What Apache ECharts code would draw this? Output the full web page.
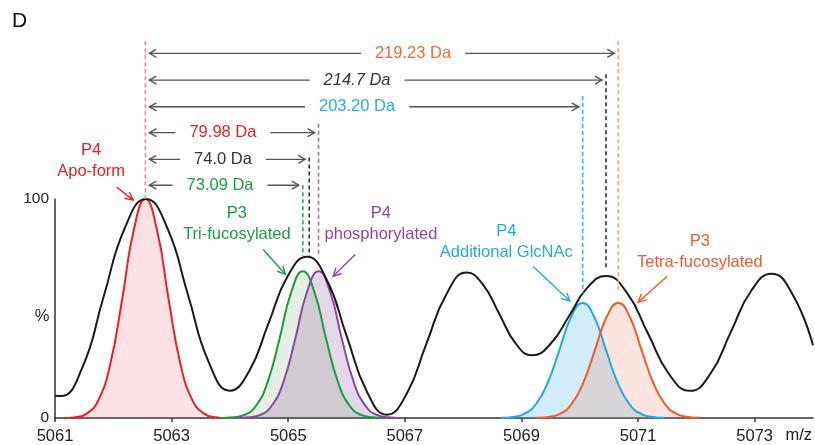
<!DOCTYPE html>
<html lang="en">
<head>
<meta charset="UTF-8">
<title>m/z</title>
<script src="https://cdn.jsdelivr.net/npm/echarts@6/dist/echarts.min.js"></script>
<style>
    *{margin:0;padding:0;}
    #main{width:815px;height:445px;background:#fff;}
</style>
</head>
<body>
<div id="main"></div>
<script>
// black envelope spectrum (m/z, %)
var envMz  = [5061.0, 5061.1, 5061.47, 5061.83, 5062.2, 5062.56, 5062.92, 5063.28, 5063.64, 5064.0,
              5064.33, 5064.66, 5064.99, 5065.32, 5065.66, 5066.0, 5066.35, 5066.69, 5067.03, 5067.37,
              5067.72, 5068.06, 5068.34, 5068.62, 5068.9, 5069.18, 5069.5, 5069.82, 5070.13, 5070.45,
              5070.81, 5071.17, 5071.53, 5071.89, 5072.24, 5072.59, 5072.94, 5073.29, 5073.65, 5074.0];
var envInt = [10.2, 10, 23.1, 55, 86.9, 100, 87.2, 56.3, 25.3, 12.5,
              21.4, 43.1, 64.7, 73.6, 63.1, 37.6, 12, 1.5, 11, 34,
              56.9, 66.4, 60.9, 47.5, 34.1, 28.6, 33.9, 46.7, 59.5, 64.8,
              57.1, 38.6, 20.1, 12.4, 20.2, 39.2, 58.1, 65.9, 56.4, 33.2];

// P4 apo-form
var redMz  = [5061.15, 5061.35, 5061.55, 5061.75, 5061.95, 5062.15, 5062.35, 5062.55, 5062.75, 5062.95, 5063.15, 5063.35, 5063.55, 5063.75, 5063.95];
var redInt = [0, 0.4, 2.1, 8.5, 24.9, 53.9, 85.7, 100, 85.7, 53.9, 24.9, 8.5, 2.1, 0.4, 0];
// P3 tri-fucosylated
var greenMz  = [5063.85, 5064.05, 5064.25, 5064.45, 5064.65, 5064.85, 5065.05, 5065.25, 5065.45, 5065.65, 5065.85, 5066.05, 5066.25, 5066.45, 5066.65];
var greenInt = [0, 0.3, 1.4, 5.7, 16.7, 36.1, 57.4, 67, 57.4, 36.1, 16.7, 5.7, 1.4, 0.3, 0];
// P4 phosphorylated
var purpleMz  = [5064.12, 5064.32, 5064.52, 5064.72, 5064.92, 5065.12, 5065.32, 5065.52, 5065.72, 5065.92, 5066.12, 5066.32, 5066.52, 5066.72, 5066.92];
var purpleInt = [0, 0.3, 1.4, 5.7, 16.7, 36.1, 57.4, 67, 57.4, 36.1, 16.7, 5.7, 1.4, 0.3, 0];
// P4 additional GlcNAc
var blueMz  = [5068.65, 5068.85, 5069.05, 5069.25, 5069.45, 5069.65, 5069.85, 5070.05, 5070.25, 5070.45, 5070.65, 5070.85, 5071.05, 5071.25, 5071.45];
var blueInt = [0.1, 0.5, 1.9, 6.4, 16.1, 31.0, 46.0, 52.5, 46.0, 31.0, 16.1, 6.4, 1.9, 0.5, 0.1];
// P3 tetra-fucosylated
var orangeMz  = [5069.26, 5069.46, 5069.66, 5069.86, 5070.06, 5070.26, 5070.46, 5070.66, 5070.86, 5071.06, 5071.26, 5071.46, 5071.66, 5071.86, 5072.06];
var orangeInt = [0.1, 0.5, 1.9, 6.4, 16.1, 31.0, 46.0, 52.5, 46.0, 31.0, 16.1, 6.4, 1.9, 0.5, 0.1];

var tickMz = [5061, 5063, 5065, 5067, 5069, 5071, 5073];
var yTicks = [0, 100];

// mass differences measured from the apo-form peak
var spanStart  = 5062.55;
var spanLabels = ['219.23 Da', '214.7 Da', '203.20 Da', '79.98 Da', '74.0 Da', '73.09 Da'];
var spanEnd    = [5070.66, 5070.45, 5070.05, 5065.52, 5065.36, 5065.25];

var FONT = '"Liberation Sans", Arial, sans-serif';

function pairs(xs, ys) {
    var out = [];
    for (var i = 0; i < xs.length; i++) out.push([xs[i], ys[i]]);
    return out;
}

function peak(name, xs, ys, color, fill) {
    return {
        name: name, type: 'line', data: pairs(xs, ys),
        smooth: 0.5, showSymbol: false, symbol: 'none', z: 2,
        lineStyle: {color: color, width: 2},
        areaStyle: {color: fill, opacity: 1}
    };
}

var chart = echarts.init(document.getElementById('main'));

var option = {
    animation: false,
    backgroundColor: '#fff',
    grid: {left: 55, right: 2, top: 199, bottom: 25},
    xAxis: {
        type: 'value', min: 5061, max: 5074, interval: 1,
        splitLine: {show: false},
        axisLine: {lineStyle: {color: '#333', width: 1.5}},
        axisTick: {show: true, length: 4, customValues: tickMz, lineStyle: {color: '#333', width: 1.5}},
        axisLabel: {
            customValues: tickMz, margin: 10, fontSize: 16.5, color: '#222', fontFamily: FONT,
            formatter: function (v) { return String(v); }
        }
    },
    yAxis: {
        type: 'value', min: 0, max: 100,
        splitLine: {show: false},
        axisLine: {show: true, lineStyle: {color: '#333', width: 1.5}},
        axisTick: {show: false},
        axisLabel: {customValues: yTicks, margin: 6, fontSize: 15.5, color: '#222', fontFamily: FONT}
    },
    series: [
        peak('P4 Apo-form', redMz, redInt, '#e8202a', 'rgba(236,60,80,0.15)'),
        peak('P3 Tri-fucosylated', greenMz, greenInt, '#1b9b45', 'rgba(70,140,60,0.14)'),
        peak('P4 phosphorylated', purpleMz, purpleInt, '#8a4a9c', 'rgba(120,60,140,0.2)'),
        peak('P4 Additional GlcNAc', blueMz, blueInt, '#27a7e1', 'rgba(80,180,230,0.25)'),
        peak('P3 Tetra-fucosylated', orangeMz, orangeInt, '#ef5b2b', 'rgba(240,110,70,0.18)'),
        {
            name: 'spectrum', type: 'line', data: pairs(envMz, envInt),
            smooth: 0.5, showSymbol: false, symbol: 'none', z: 3,
            lineStyle: {color: '#1a1a1a', width: 2}
        }
    ]
};
chart.setOption(option);

function px(mz, pct) {
    return chart.convertToPixel({gridIndex: 0}, [mz, pct]);
}

var g = [];

// dashed guides: m/z, top %, bottom %, colour
var guides = [
    [spanStart, 172, 100, '#f4868c'],
    [5070.66, 172, 57, '#f6a07a'],
    [5070.45, 157, 68, '#333'],
    [5070.05, 147, 57, '#3bb4e6'],
    [5065.52, 134.4, 74, '#a070b0'],
    [5065.36, 119, 74, '#333'],
    [5065.25, 106.3, 74, '#2aa350']
];
guides.forEach(function (d) {
    var a = px(d[0], d[1]), b = px(d[0], d[2]);
    g.push({type: 'line', z: 10, shape: {x1: a[0], y1: a[1], x2: b[0], y2: b[1]},
        style: {stroke: d[3], lineWidth: 1.6, lineDash: [4, 3]}});
});

// dimension rows
var rowLevel = [166.5, 154.3, 142.1, 130.3, 118.1, 106.3];
var rowText  = [5067.14, 5066.18, 5066.18, 5063.88, 5063.88, 5063.83];
var rowColor = ['#f26b3a', '#333', '#29abe2', '#e8202a', '#333', '#1b9b45'];
for (var i = 0; i < spanLabels.length; i++) {
    var p1 = px(spanStart, rowLevel[i]), p2 = px(spanEnd[i], rowLevel[i]);
    var y = p1[1], x1 = p1[0] + 4, x2 = p2[0] - 4;
    g.push({type: 'line', z: 10, shape: {x1: x1, y1: y, x2: x2, y2: y}, style: {stroke: '#555', lineWidth: 1.4}});
    g.push({type: 'polyline', z: 10, shape: {points: [[x1 + 7, y - 4], [x1, y], [x1 + 7, y + 4]]}, style: {stroke: '#555', lineWidth: 1.4, fill: null}});
    g.push({type: 'polyline', z: 10, shape: {points: [[x2 - 7, y - 4], [x2, y], [x2 - 7, y + 4]]}, style: {stroke: '#555', lineWidth: 1.4, fill: null}});
    var t = px(rowText[i], rowLevel[i]);
    g.push({type: 'text', z: 11, x: t[0], y: t[1], style: {
        text: spanLabels[i], align: 'center', verticalAlign: 'middle',
        fill: rowColor[i], backgroundColor: '#fff', padding: [0, 14],
        font: (i === 1 ? 'italic ' : '') + '16.5px ' + FONT
    }});
}

// peak labels with pointer arrows
var peakNotes = [
    {text: 'P4\nApo-form', c: '#e8202a', at: [5061.62, 117.6], from: [5062.06, 105.4], to: [5062.34, 99.5]},
    {text: 'P3\nTri-fucosylated', c: '#1b9b45', at: [5064.12, 88.7], from: [5064.57, 76.9], to: [5064.95, 65.6]},
    {text: 'P4\nphosphorylated', c: '#8a4a9c', at: [5066.59, 88.7], from: [5066.15, 74.7], to: [5065.77, 64.7]},
    {text: 'P4\nAdditional GlcNAc', c: '#27a7e1', at: [5068.74, 80.3], from: [5069.2, 69.2], to: [5069.83, 53.4]},
    {text: 'P3\nTetra-fucosylated', c: '#ef5b2b', at: [5072.06, 76], from: [5071.5, 64.7], to: [5071.0, 52.9]}
];
peakNotes.forEach(function (n) {
    var t = px(n.at[0], n.at[1]);
    g.push({type: 'text', z: 11, x: t[0], y: t[1], style: {
        text: n.text, align: 'center', verticalAlign: 'middle', lineHeight: 21,
        fill: n.c, font: '16.5px ' + FONT
    }});
    var a = px(n.from[0], n.from[1]), b = px(n.to[0], n.to[1]);
    var dx = b[0] - a[0], dy = b[1] - a[1], len = Math.sqrt(dx * dx + dy * dy);
    var ux = dx / len, uy = dy / len;
    g.push({type: 'line', z: 11, shape: {x1: a[0], y1: a[1], x2: b[0], y2: b[1]}, style: {stroke: n.c, lineWidth: 1.4}});
    g.push({type: 'polyline', z: 11, shape: {points: [
        [b[0] - ux * 8 - uy * 4, b[1] - uy * 8 + ux * 4], b, [b[0] - ux * 8 + uy * 4, b[1] - uy * 8 - ux * 4]
    ]}, style: {stroke: n.c, lineWidth: 1.4, fill: null}});
});

// axis captions
var pc = px(5061, 46.5);
g.push({type: 'text', z: 11, x: pc[0] - 13, y: pc[1], style: {text: '%', align: 'center', verticalAlign: 'middle', fill: '#222', font: '16.5px ' + FONT}});
var mz = px(5074, 0);
g.push({type: 'text', z: 11, x: mz[0] - 1, y: mz[1] + 17, style: {text: 'm/z', align: 'right', verticalAlign: 'middle', fill: '#222', font: '16.5px ' + FONT}});
g.push({type: 'text', z: 11, x: 12, y: 21, style: {text: 'D', align: 'left', verticalAlign: 'middle', fill: '#111', font: '21px ' + FONT}});

chart.setOption({graphic: g});
</script>
</body>
</html>
